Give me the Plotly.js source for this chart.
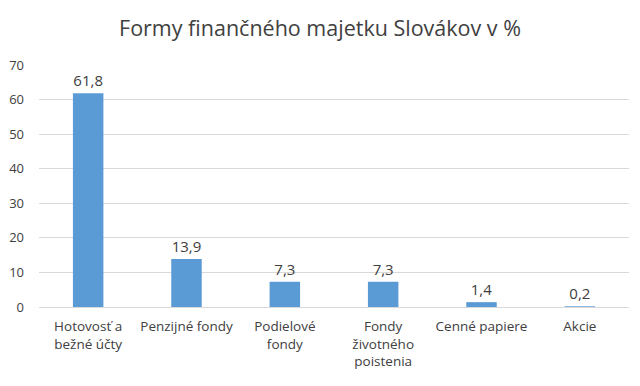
<!DOCTYPE html>
<html>
<head>
<meta charset="utf-8">
<script src="https://cdn.plot.ly/plotly-3.0.1.min.js"></script>
<style>html,body{margin:0;padding:0;background:#fff;}#chart{width:640px;height:386px;}</style>
</head>
<body>
<div id="chart"></div>
<script>
const categories = ["Hotovosť a<br>bežné účty", "Penzijné fondy", "Podielové<br>fondy", "Fondy<br>životného<br>poistenia", "Cenné papiere", "Akcie"];
const values = [61.8, 13.9, 7.3, 7.3, 1.4, 0.2];
const valueLabels = ["61,8", "13,9", "7,3", "7,3", "1,4", "0,2"];
const yTicks = [0, 10, 20, 30, 40, 50, 60, 70];

const font = "Open Sans, Liberation Sans, sans-serif";
Plotly.newPlot("chart", [{
  type: "bar",
  x: categories,
  y: values,
  text: valueLabels,
  textposition: "outside",
  cliponaxis: false,
  textfont: {family: font, size: 15, color: "#404040"},
  marker: {color: "#5B9BD5"},
  hoverinfo: "skip"
}], {
  width: 640, height: 386,
  margin: {l: 39, r: 11, t: 65, b: 79},
  paper_bgcolor: "#fff", plot_bgcolor: "#fff",
  bargap: 0.69,
  title: {text: "Formy finančného majetku Slovákov v %", font: {family: font, size: 21.5, color: "#404040"}, x: 0.5, xanchor: "center", y: 0.925, yanchor: "middle"},
  xaxis: {tickfont: {family: font, size: 13.5, color: "#404040"}, showline: true, linecolor: "#D9D9D9", ticks: "", ticklabelstandoff: 7, fixedrange: true},
  yaxis: {range: [0, 70], tickvals: yTicks, tickfont: {family: font, size: 13, color: "#404040"}, gridcolor: "#D9D9D9", zeroline: false, ticks: "", ticklabelstandoff: 14, fixedrange: true},
  showlegend: false
}, {displayModeBar: false, staticPlot: true});
</script>
</body>
</html>
